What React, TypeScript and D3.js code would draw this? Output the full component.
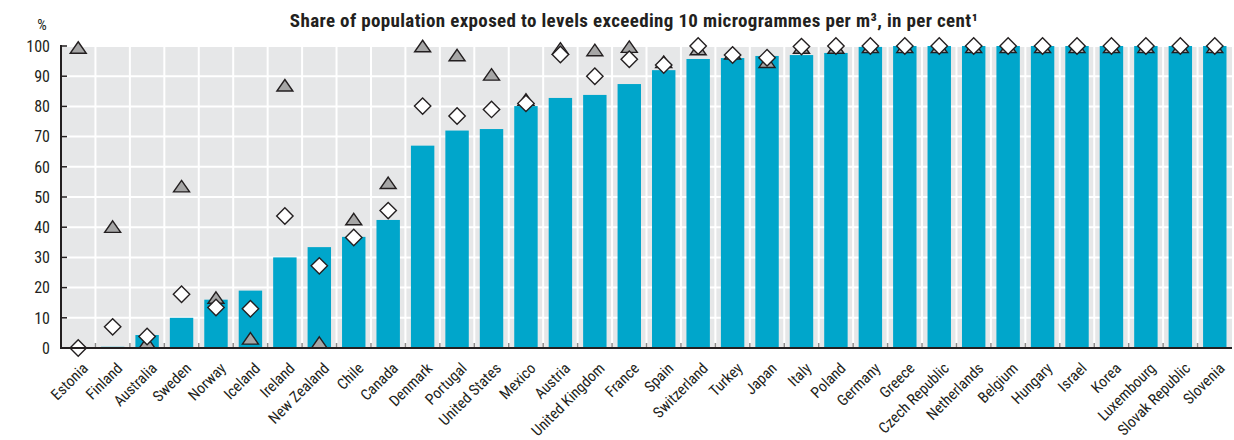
import React from "react";
import * as d3 from "d3";

const categories = ["Estonia","Finland","Australia","Sweden","Norway","Iceland","Ireland","New Zealand","Chile","Canada","Denmark","Portugal","United States","Mexico","Austria","United Kingdom","France","Spain","Switzerland","Turkey","Japan","Italy","Poland","Germany","Greece","Czech Republic","Netherlands","Belgium","Hungary","Israel","Korea","Luxembourg","Slovak Republic","Slovenia"];
const barValues = [0,0.4,4.3,10,16,19,30,33.4,36.8,42.4,67,72,72.5,80.1,82.8,83.8,87.4,92,95.7,96,96.7,97,97.7,99.7,100,100,100,100,100,100,100,100,100,100];
const diamondValues = [0,7,3.8,17.8,13.4,13,43.7,27.2,36.6,45.5,80.1,76.8,79,81,97.2,90,95.6,93.7,100,97,96.1,99.8,100,100,100,100,100,100,100,100,100,100,100,100];
const triangleValues = [99.5,40.2,1.8,53.6,16.7,3.2,87,1.8,42.7,54.7,100,97,90.6,82.3,99.2,98.7,99.8,94.8,99,97.6,94.8,99.5,99.5,99.7,99.7,99.7,99.7,99.7,99.7,99.7,99.7,99.7,99.7,99.7];
const yTicks = [0,10,20,30,40,50,60,70,80,90,100];
const title = "Share of population exposed to levels exceeding 10 microgrammes per m³, in per cent¹";

const W = 1234, H = 440;
const left = 61, right = 1232, top = 46, bottom = 348;
const FONT = "'Liberation Sans Narrow', 'Arial Narrow', 'Roboto Condensed', 'Liberation Sans', sans-serif";
const DARK = "#231f20";

export default function App() {
  const x = d3.scaleBand<string>().domain(categories).range([left, right]).paddingInner(0.32).paddingOuter(0.16);
  const y = d3.scaleLinear().domain([0, 100]).range([bottom, top]);
  const step = x.step();
  const bw = x.bandwidth();
  const cx = (c: string) => (x(c) as number) + bw / 2;
  const boundaries = categories.slice(1).map((c) => cx(c) - step / 2);
  const ds = 8.2;
  const tri = (px: number, py: number) => {
    const w = 8, h = 11.5;
    return `M${px},${py - h / 2}L${px + w},${py + h / 2}L${px - w},${py + h / 2}Z`;
  };
  const dia = (px: number, py: number) => `M${px},${py - ds}L${px + ds},${py}L${px},${py + ds}L${px - ds},${py}Z`;

  return (
    <svg width={W} height={H} style={{ display: "block", position: "absolute", left: 0, top: 0 }} fontFamily={FONT}>
      <rect x={0} y={0} width={W} height={H} fill="#fff" />
      <text x={634} y={26.5} textAnchor="middle" fontSize={19} fontWeight="bold" letterSpacing={0.35} fill={DARK}>{title}</text>
      <rect x={left} y={top} width={right - left} height={bottom - top} fill="#e6e7e8" />
      {yTicks.filter((t) => t > 0).map((t) => (
        <line key={"h" + t} x1={left} x2={right} y1={y(t)} y2={y(t)} stroke="#fff" strokeWidth={2} />
      ))}
      {boundaries.map((b, i) => (
        <line key={"v" + i} x1={b} x2={b} y1={top} y2={bottom} stroke="#fff" strokeWidth={2} />
      ))}
      {categories.map((c, i) => (
        <rect key={"b" + c} x={x(c)} width={bw} y={y(barValues[i])} height={bottom - y(barValues[i])} fill="#00a6cb" />
      ))}
      {boundaries.map((b, i) => (
        <line key={"t" + i} x1={b} x2={b} y1={bottom - 5} y2={bottom} stroke="#8a8a8a" strokeWidth={1.5} />
      ))}
      {categories.map((c, i) => (
        <path key={"tr" + c} d={tri(cx(c), y(triangleValues[i]))} fill="#a6a6a6" stroke={DARK} strokeWidth={1.4} />
      ))}
      {categories.map((c, i) => (
        <path key={"di" + c} d={dia(cx(c), y(diamondValues[i]))} fill="#fff" stroke={DARK} strokeWidth={1.4} />
      ))}
      <line x1={left} x2={left} y1={top - 1} y2={bottom + 1} stroke={DARK} strokeWidth={2} />
      <line x1={left - 1} x2={right} y1={bottom} y2={bottom} stroke={DARK} strokeWidth={2} />
      {yTicks.map((t) => (
        <g key={"yt" + t}>
          <line x1={left} x2={left + 6} y1={y(t)} y2={y(t)} stroke={DARK} strokeWidth={1.5} />
          <text x={50} y={y(t)} dy="0.36em" textAnchor="end" fontSize={16} fill={DARK}>{t}</text>
        </g>
      ))}
      <text x={42} y={30} textAnchor="middle" fontSize={15} fill={DARK}>%</text>
      {categories.map((c) => (
        <text key={"xl" + c} transform={`translate(${cx(c) + 7},${365.5}) rotate(-45)`} textAnchor="end" dy="0.35em" fontSize={15.3} fill={DARK}>{c}</text>
      ))}
    </svg>
  );
}
